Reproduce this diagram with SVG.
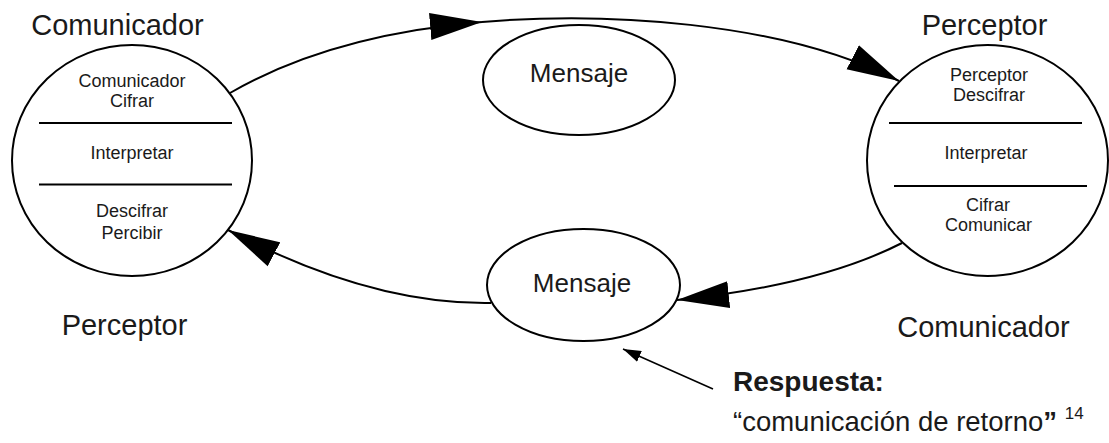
<svg xmlns="http://www.w3.org/2000/svg" width="1109" height="443" viewBox="0 0 1109 443">
<style>
.shape{fill:#fff;stroke:#000;stroke-width:2}
.div{stroke:#000;stroke-width:2}
.edge{fill:none;stroke:#000;stroke-width:2}
.thin{fill:none;stroke:#000;stroke-width:1.6}
text{font-family:"Liberation Sans",Arial,sans-serif;fill:#1a1a1a}
.big{font-size:29px}
.sm{font-size:18px;text-anchor:middle}
.msg{font-size:26px;text-anchor:middle}
</style>
<defs>
<marker id="ah" markerUnits="userSpaceOnUse" markerWidth="52" markerHeight="28" viewBox="0 0 50 26" refX="50" refY="13" orient="auto">
<path d="M0,0 L50,13 L0,26 Z" fill="#000"/>
</marker>
<marker id="ahs" markerUnits="userSpaceOnUse" markerWidth="18" markerHeight="12" viewBox="0 0 17 11" refX="17" refY="5.5" orient="auto">
<path d="M0,0 L17,5.5 L0,11 Z" fill="#000"/>
</marker>
</defs>
<g id="connectors">
<path class="edge" d="M230,93 Q330,35 482,22" marker-end="url(#ah)"/>
<path class="edge" d="M482,22 C600,12 780,20 899,81" marker-end="url(#ah)"/>
<path class="edge" d="M902,243 Q820,285 677,300" marker-end="url(#ah)"/>
<path class="edge" d="M491,303 Q370,305 228,230" marker-end="url(#ah)"/>
<path class="thin" d="M713,389 L623,349" marker-end="url(#ahs)"/>
</g>
<g id="comunicador">
<ellipse class="shape" cx="132" cy="160.5" rx="120" ry="115.5"/>
<line class="div" x1="39" y1="123" x2="232" y2="123"/>
<line class="div" x1="39" y1="184.5" x2="232" y2="184.5"/>
<text class="sm" x="132" y="87">Comunicador</text>
<text class="sm" x="132" y="107">Cifrar</text>
<text class="sm" x="132" y="159">Interpretar</text>
<text class="sm" x="132" y="217">Descifrar</text>
<text class="sm" x="132" y="238.5">Percibir</text>
</g>
<g id="perceptor">
<ellipse class="shape" cx="987.5" cy="160.5" rx="120.5" ry="115.5"/>
<line class="div" x1="889" y1="123" x2="1082" y2="123"/>
<line class="div" x1="894" y1="186" x2="1087" y2="186"/>
<text class="sm" x="989" y="81">Perceptor</text>
<text class="sm" x="989" y="100.5">Descifrar</text>
<text class="sm" x="986" y="159">Interpretar</text>
<text class="sm" x="988" y="210.5">Cifrar</text>
<text class="sm" x="988.5" y="230.5">Comunicar</text>
</g>
<g id="mensaje-top">
<ellipse class="shape" cx="579" cy="80" rx="96" ry="55"/>
<text class="msg" x="579" y="82">Mensaje</text>
</g>
<g id="mensaje-bottom">
<ellipse class="shape" cx="583.5" cy="285" rx="96.5" ry="56"/>
<text class="msg" x="582" y="292">Mensaje</text>
</g>
<g id="labels">
<text class="big" x="117.5" y="35" text-anchor="middle">Comunicador</text>
<text class="big" x="984.5" y="35" text-anchor="middle">Perceptor</text>
<text class="big" x="124.5" y="335" text-anchor="middle">Perceptor</text>
<text class="big" x="983.5" y="337" text-anchor="middle">Comunicador</text>
</g>
<g id="respuesta">
<text x="733" y="391" font-size="28" font-weight="bold">Respuesta:</text>
<text x="733" y="431" font-size="27.5">“comunicación de retorno<tspan font-weight="bold">”</tspan> <tspan font-size="17" dy="-12">14</tspan></text>
</g>
</svg>
